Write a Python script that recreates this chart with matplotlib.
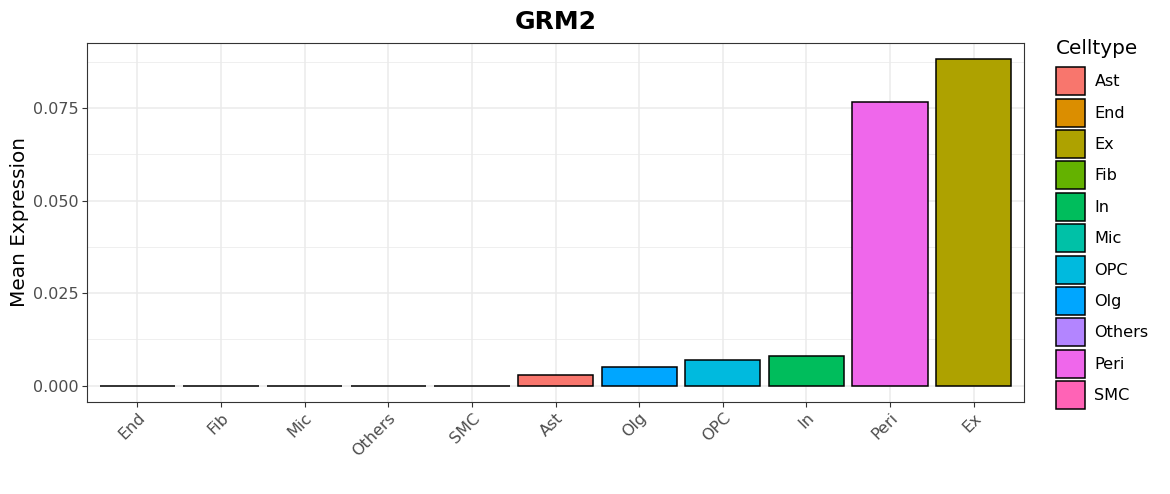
import matplotlib.pyplot as plt
from matplotlib.patches import Patch
from matplotlib.ticker import MultipleLocator
import numpy as np

# data
celltypes = ['End', 'Fib', 'Mic', 'Others', 'SMC', 'Ast', 'Olg', 'OPC', 'In', 'Peri', 'Ex']
mean_expr = [0.0, 0.0, 0.0, 0.0, 0.0, 0.0030, 0.0051, 0.0070, 0.0081, 0.0766, 0.0882]

legend_order = ['Ast', 'End', 'Ex', 'Fib', 'In', 'Mic', 'OPC', 'Olg', 'Others', 'Peri', 'SMC']
legend_colors = ['#F8766D', '#DB8E00', '#AEA200', '#64B200', '#00BD5C', '#00C1A7',
                 '#00BADE', '#00A6FF', '#B385FF', '#EF67EB', '#FF63B6']
cmap = dict(zip(legend_order, legend_colors))

plt.rcParams['font.family'] = 'DejaVu Sans'
fig = plt.figure(figsize=(11.7, 4.94), dpi=100)
ax = fig.add_axes([0.0744, 0.1862, 0.8008, 0.7268])

xs = np.arange(len(celltypes))
ax.bar(xs, mean_expr, width=0.9, color=[cmap[c] for c in celltypes],
       edgecolor='black', linewidth=1.1, zorder=3)

ymax = max(mean_expr)
ax.set_ylim(-0.05 * ymax, 1.05 * ymax)
ax.set_xlim(-0.6, len(celltypes) - 0.4)
ax.yaxis.set_minor_locator(MultipleLocator(0.0125))
ax.set_yticks([0, 0.025, 0.05, 0.075])
ax.set_yticklabels(['0.000', '0.025', '0.050', '0.075'])
ax.set_xticks(xs)
ax.set_xticklabels(celltypes, rotation=45, ha='right', va='top', rotation_mode='anchor')

ax.grid(True, which='major', color='#EBEBEB', linewidth=1.1, zorder=0)
ax.grid(True, which='minor', axis='y', color='#EBEBEB', linewidth=0.55, zorder=0)
ax.set_axisbelow(True)
ax.tick_params(which='minor', length=0)
ax.tick_params(which='major', length=3.5, width=0.8, color='#333333',
               labelsize=11.5, labelcolor='#4D4D4D', pad=2.5)
for s in ax.spines.values():
    s.set_color('#333333')
    s.set_linewidth(0.8)

ax.set_ylabel('Mean Expression', fontsize=14.4, labelpad=3)
ax.set_title('GRM2', fontsize=18, fontweight='bold', pad=10)

handles = [Patch(facecolor=c, edgecolor='black', linewidth=1.1) for c in legend_colors]
leg = fig.legend(handles, legend_order, title='Celltype', loc='upper left',
                 bbox_to_anchor=(0.8955, 0.938), frameon=False, fontsize=11.6,
                 title_fontsize=14.4, handlelength=1.8, handleheight=2.3,
                 labelspacing=0.21, handletextpad=0.6, borderpad=0)
leg._legend_box.align = 'left'
leg._legend_box.sep = 6.8

plt.savefig('out.png', dpi=100)
